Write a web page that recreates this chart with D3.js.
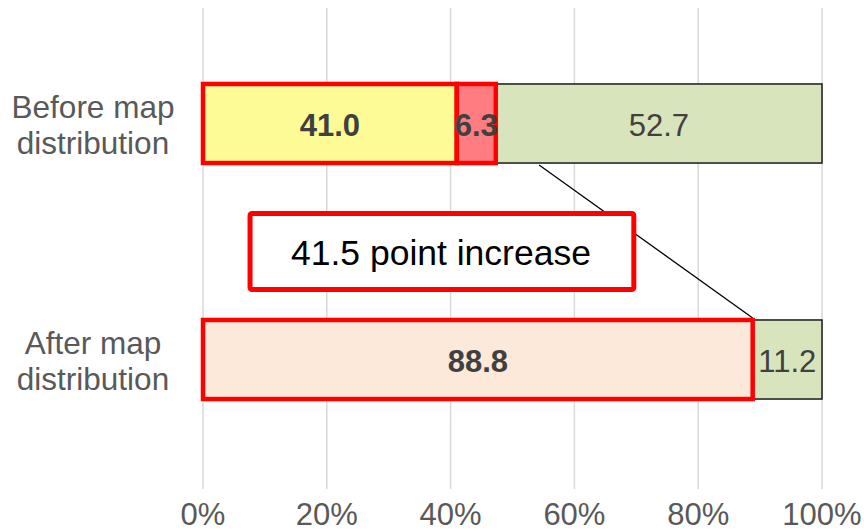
<!DOCTYPE html>
<html>
<head>
<meta charset="utf-8">
<script src="https://cdn.jsdelivr.net/npm/d3@7"></script>
<style>
  html, body { margin: 0; padding: 0; background: #fff; }
  svg { display: block; font-family: "Liberation Sans", Arial, sans-serif; }
</style>
</head>
<body>
<svg id="chart" width="864" height="531"></svg>
<script>
// ---- data ----
const categories = ["Before map distribution", "After map distribution"];
const categoryLines = [["Before map", "distribution"], ["After map", "distribution"]];
const beforeValues = [41.0, 6.3, 52.7];
const afterValues = [88.8, 11.2];
const beforeFills = ["#FDFB96", "#FF7C80", "#D8E4BC"];
const afterFills = ["#FCE9DA", "#D8E4BC"];
const beforeHighlighted = [true, true, false];
const afterHighlighted = [true, false];
const tickValues = [0, 20, 40, 60, 80, 100];
const tickLabels = ["0%", "20%", "40%", "60%", "80%", "100%"];
const annotationText = "41.5 point increase";
const annotationRange = [7.6, 69.6];   // x extent of callout box in % units
const connectorValues = [54.3, 88.8];  // connector from top bar bottom to bottom bar top

const svg = d3.select("#chart");
const x = d3.scaleLinear().domain([0, 100]).range([203, 822]);
const y = d3.scaleBand().domain(categories).range([5.5, 477.5])
  .paddingInner(0.665).paddingOuter(0.3325);

// gridlines
svg.append("g").selectAll("line").data(tickValues).join("line")
  .attr("x1", d => x(d)).attr("x2", d => x(d))
  .attr("y1", 8).attr("y2", 489)
  .attr("stroke", "#D9D9D9").attr("stroke-width", 1.5);

// tick labels
svg.append("g").selectAll("text").data(tickValues).join("text")
  .attr("x", d => x(d)).attr("y", 525)
  .attr("text-anchor", "middle")
  .attr("font-size", 31).attr("fill", "#595959")
  .text((d, i) => tickLabels[i]);

// category labels
categories.forEach((c, i) => {
  const cy = y(c) + y.bandwidth() / 2;
  const t = svg.append("text").attr("text-anchor", "middle")
    .attr("font-size", 31.5).attr("fill", "#595959");
  categoryLines[i].forEach((ln, j) => {
    t.append("tspan").attr("x", 93).attr("y", cy - 5.5 + j * 36).text(ln);
  });
});

function segments(vals, fills, hl, cat) {
  let acc = 0;
  return vals.map((v, i) => {
    const s = { cat, x0: acc, x1: acc + v, v, fill: fills[i], hl: hl[i] };
    acc += v;
    return s;
  });
}
const segs = [
  ...segments(beforeValues, beforeFills, beforeHighlighted, categories[0]),
  ...segments(afterValues, afterFills, afterHighlighted, categories[1])
];

// connector line
svg.append("line")
  .attr("x1", x(connectorValues[0])).attr("y1", y(categories[0]) + y.bandwidth() + 2)
  .attr("x2", x(connectorValues[1])).attr("y2", y(categories[1]) - 2)
  .attr("stroke", "#000").attr("stroke-width", 1.3);

const order = segs.filter(d => !d.hl).concat(segs.filter(d => d.hl));
svg.append("g").selectAll("rect").data(order).join("rect")
  .attr("x", d => x(d.x0)).attr("width", d => x(d.x1) - x(d.x0))
  .attr("y", d => y(d.cat)).attr("height", y.bandwidth())
  .attr("fill", d => d.fill)
  .attr("stroke", d => d.hl ? "#FF0000" : "#1a1a1a")
  .attr("stroke-width", d => d.hl ? 4.5 : 1.5);

// value labels
svg.append("g").selectAll("text").data(segs).join("text")
  .attr("x", d => (x(d.x0) + x(d.x1)) / 2)
  .attr("y", d => y(d.cat) + y.bandwidth() / 2 + 12)
  .attr("text-anchor", "middle")
  .attr("font-size", 31)
  .attr("font-weight", d => d.hl ? "bold" : "normal")
  .attr("fill", "#404040")
  .text(d => d3.format(".1f")(d.v));

// annotation box
const boxTop = 211.5, boxBottom = 291.5;
svg.append("rect")
  .attr("x", x(annotationRange[0])).attr("width", x(annotationRange[1]) - x(annotationRange[0]))
  .attr("y", boxTop + 2).attr("height", boxBottom - boxTop - 4)
  .attr("rx", 2)
  .attr("fill", "#fff").attr("stroke", "#FF0000").attr("stroke-width", 5);
svg.append("text")
  .attr("x", (x(annotationRange[0]) + x(annotationRange[1])) / 2 - 1)
  .attr("y", (boxTop + boxBottom) / 2 + 13)
  .attr("text-anchor", "middle")
  .attr("font-size", 35.5).attr("fill", "#000")
  .text(annotationText);
</script>
</body>
</html>
